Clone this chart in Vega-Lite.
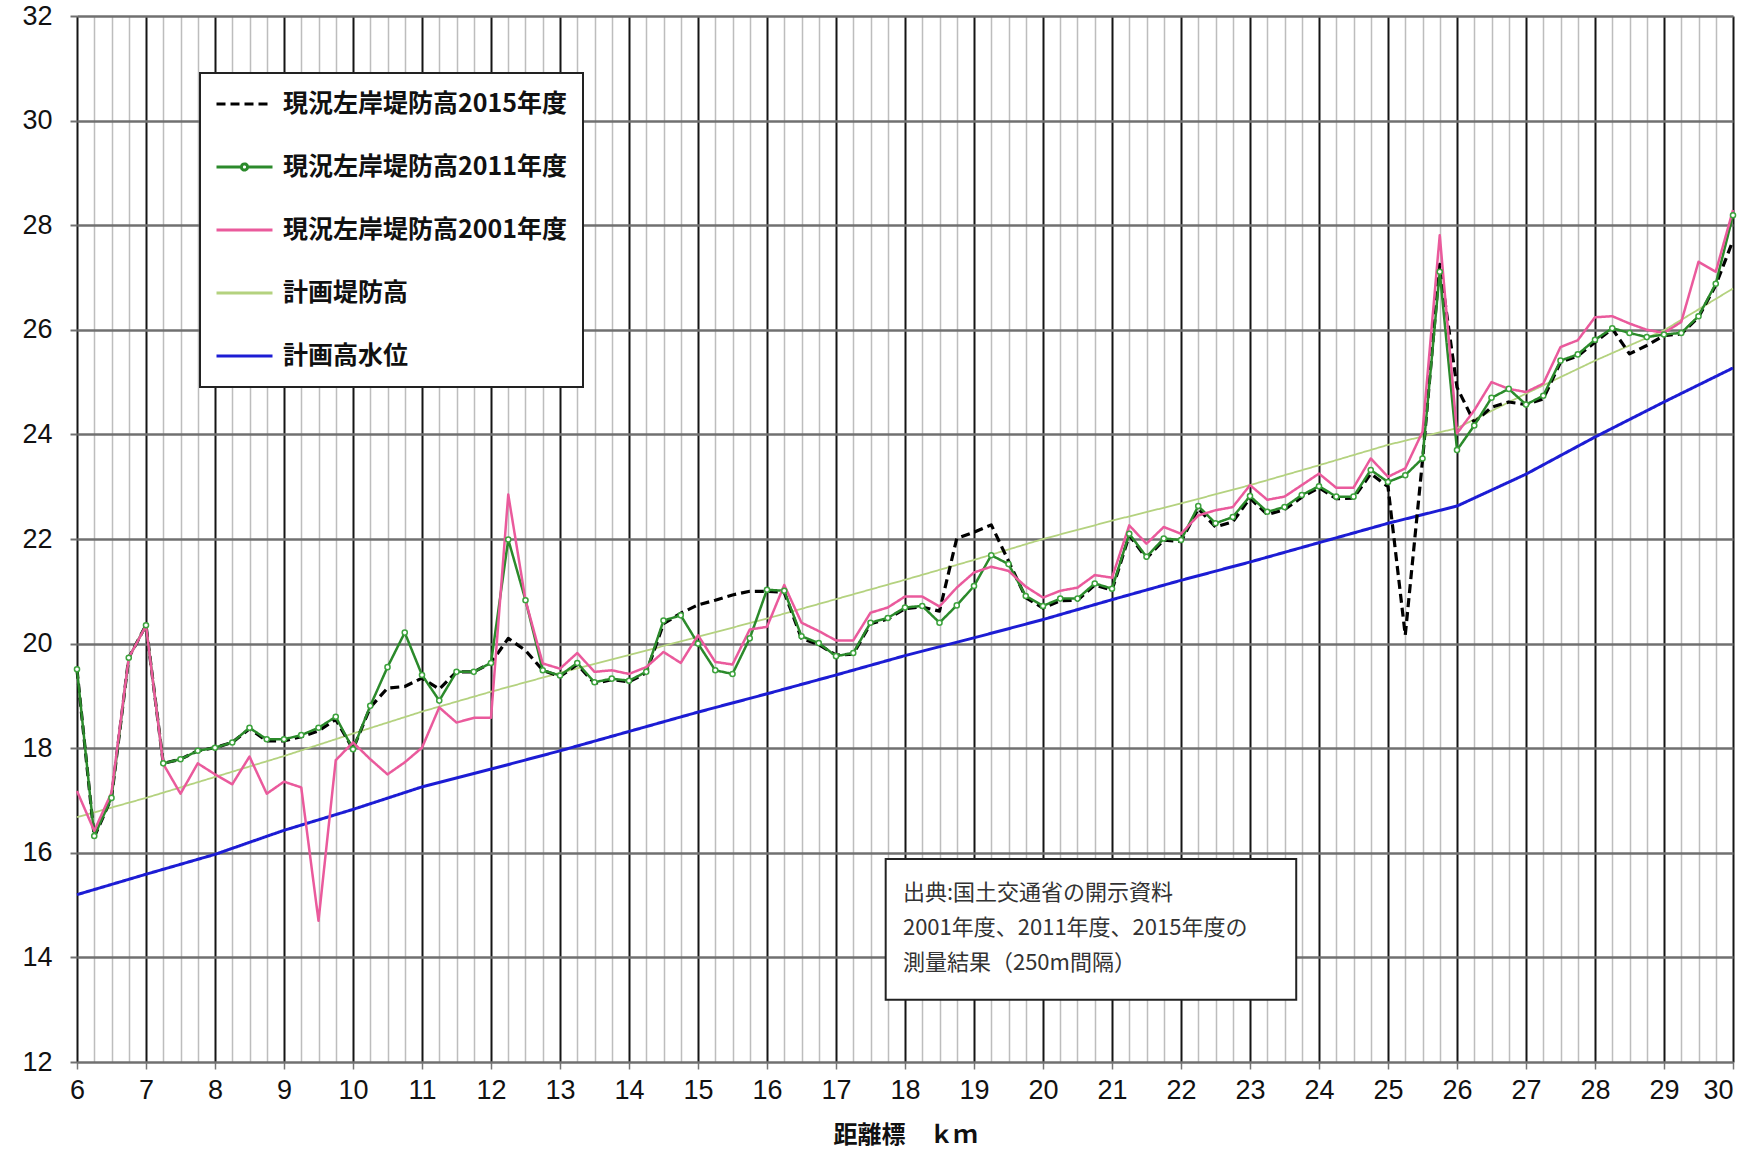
{
  "$schema": "https://vega.github.io/schema/vega-lite/v6.json",
  "width": 1656,
  "height": 1046,
  "autosize": {"type": "none"},
  "padding": {"left": 77, "top": 16, "right": 11, "bottom": 92},
  "background": "white",
  "config": {
    "view": {"stroke": null},
    "font": "Noto Sans CJK JP",
    "legend": {"strokeWidth": 2}
  },
  "resolve": {"axis": {"x": "independent"}},
  "datasets": {
    "plan": [
      {"km": 6, "plan": 16.68, "hwl": 15.20},
      {"km": 7, "plan": 17.05, "hwl": 15.59},
      {"km": 8, "plan": 17.45, "hwl": 15.97},
      {"km": 9, "plan": 17.85, "hwl": 16.43},
      {"km": 10, "plan": 18.28, "hwl": 16.83},
      {"km": 11, "plan": 18.70, "hwl": 17.26},
      {"km": 12, "plan": 19.08, "hwl": 17.60},
      {"km": 13, "plan": 19.44, "hwl": 17.95},
      {"km": 14, "plan": 19.78, "hwl": 18.32},
      {"km": 15, "plan": 20.13, "hwl": 18.69},
      {"km": 16, "plan": 20.48, "hwl": 19.04},
      {"km": 17, "plan": 20.85, "hwl": 19.40},
      {"km": 18, "plan": 21.22, "hwl": 19.77},
      {"km": 19, "plan": 21.60, "hwl": 20.11},
      {"km": 20, "plan": 22.00, "hwl": 20.46},
      {"km": 21, "plan": 22.35, "hwl": 20.84},
      {"km": 22, "plan": 22.68, "hwl": 21.21},
      {"km": 23, "plan": 23.03, "hwl": 21.56},
      {"km": 24, "plan": 23.41, "hwl": 21.93},
      {"km": 25, "plan": 23.80, "hwl": 22.30},
      {"km": 26, "plan": 24.12, "hwl": 22.63},
      {"km": 27, "plan": 24.78, "hwl": 23.24},
      {"km": 28, "plan": 25.41, "hwl": 23.95},
      {"km": 29, "plan": 25.99, "hwl": 24.62},
      {"km": 30, "plan": 26.79, "hwl": 25.27}
    ],
    "survey": [
      {"km": 6, "s2015": 19.50, "s2011": 19.51, "s2001": 17.18},
      {"km": 6.25, "s2015": 16.30, "s2011": 16.32, "s2001": 16.42},
      {"km": 6.5, "s2015": 17.05, "s2011": 17.05, "s2001": 17.15},
      {"km": 6.75, "s2015": 19.73, "s2011": 19.73, "s2001": 19.73},
      {"km": 7, "s2015": 20.35, "s2011": 20.35, "s2001": 20.34},
      {"km": 7.25, "s2015": 17.71, "s2011": 17.71, "s2001": 17.70},
      {"km": 7.5, "s2015": 17.79, "s2011": 17.79, "s2001": 17.13},
      {"km": 7.75, "s2015": 17.95, "s2011": 17.95, "s2001": 17.71},
      {"km": 8, "s2015": 18.01, "s2011": 18.01, "s2001": 17.50},
      {"km": 8.25, "s2015": 18.11, "s2011": 18.11, "s2001": 17.31},
      {"km": 8.5, "s2015": 18.37, "s2011": 18.39, "s2001": 17.84},
      {"km": 8.75, "s2015": 18.14, "s2011": 18.17, "s2001": 17.13},
      {"km": 9, "s2015": 18.14, "s2011": 18.17, "s2001": 17.36},
      {"km": 9.25, "s2015": 18.22, "s2011": 18.25, "s2001": 17.25},
      {"km": 9.5, "s2015": 18.33, "s2011": 18.39, "s2001": 14.70},
      {"km": 9.75, "s2015": 18.55, "s2011": 18.60, "s2001": 17.77},
      {"km": 10, "s2015": 17.98, "s2011": 17.98, "s2001": 18.11},
      {"km": 10.25, "s2015": 18.78, "s2011": 18.81, "s2001": 17.79},
      {"km": 10.5, "s2015": 19.15, "s2011": 19.55, "s2001": 17.50},
      {"km": 10.75, "s2015": 19.18, "s2011": 20.21, "s2001": 17.73},
      {"km": 11, "s2015": 19.34, "s2011": 19.40, "s2001": 18.01},
      {"km": 11.25, "s2015": 19.13, "s2011": 18.91, "s2001": 18.78},
      {"km": 11.5, "s2015": 19.46, "s2011": 19.46, "s2001": 18.49},
      {"km": 11.75, "s2015": 19.46, "s2011": 19.46, "s2001": 18.58},
      {"km": 12, "s2015": 19.63, "s2011": 19.63, "s2001": 18.58},
      {"km": 12.25, "s2015": 20.10, "s2011": 21.99, "s2001": 22.85},
      {"km": 12.5, "s2015": 19.87, "s2011": 20.83, "s2001": 20.83},
      {"km": 12.75, "s2015": 19.49, "s2011": 19.49, "s2001": 19.62},
      {"km": 13, "s2015": 19.37, "s2011": 19.39, "s2001": 19.52},
      {"km": 13.25, "s2015": 19.60, "s2011": 19.63, "s2001": 19.82},
      {"km": 13.5, "s2015": 19.24, "s2011": 19.26, "s2001": 19.46},
      {"km": 13.75, "s2015": 19.31, "s2011": 19.33, "s2001": 19.49},
      {"km": 14, "s2015": 19.27, "s2011": 19.29, "s2001": 19.42},
      {"km": 14.25, "s2015": 19.44, "s2011": 19.46, "s2001": 19.55},
      {"km": 14.5, "s2015": 20.38, "s2011": 20.44, "s2001": 19.84},
      {"km": 14.75, "s2015": 20.58, "s2011": 20.54, "s2001": 19.63},
      {"km": 15, "s2015": 20.74, "s2011": 20.00, "s2001": 20.16},
      {"km": 15.25, "s2015": 20.83, "s2011": 19.49, "s2001": 19.65},
      {"km": 15.5, "s2015": 20.93, "s2011": 19.42, "s2001": 19.60},
      {"km": 15.75, "s2015": 21.00, "s2011": 20.10, "s2001": 20.27},
      {"km": 16, "s2015": 21.00, "s2011": 21.03, "s2001": 20.32},
      {"km": 16.25, "s2015": 20.98, "s2011": 21.01, "s2001": 21.12},
      {"km": 16.5, "s2015": 20.10, "s2011": 20.14, "s2001": 20.40},
      {"km": 16.75, "s2015": 19.98, "s2011": 20.01, "s2001": 20.24},
      {"km": 17, "s2015": 19.78, "s2011": 19.76, "s2001": 20.06},
      {"km": 17.25, "s2015": 19.80, "s2011": 19.82, "s2001": 20.06},
      {"km": 17.5, "s2015": 20.38, "s2011": 20.40, "s2001": 20.59},
      {"km": 17.75, "s2015": 20.47, "s2011": 20.49, "s2001": 20.69},
      {"km": 18, "s2015": 20.67, "s2011": 20.69, "s2001": 20.90},
      {"km": 18.25, "s2015": 20.70, "s2011": 20.72, "s2001": 20.90},
      {"km": 18.5, "s2015": 20.62, "s2011": 20.40, "s2001": 20.71},
      {"km": 18.75, "s2015": 22.01, "s2011": 20.73, "s2001": 21.07},
      {"km": 19, "s2015": 22.13, "s2011": 21.10, "s2001": 21.36},
      {"km": 19.25, "s2015": 22.27, "s2011": 21.69, "s2001": 21.47},
      {"km": 19.5, "s2015": 21.58, "s2011": 21.52, "s2001": 21.39},
      {"km": 19.75, "s2015": 20.88, "s2011": 20.91, "s2001": 21.09},
      {"km": 20, "s2015": 20.68, "s2011": 20.72, "s2001": 20.88},
      {"km": 20.25, "s2015": 20.82, "s2011": 20.86, "s2001": 21.01},
      {"km": 20.5, "s2015": 20.83, "s2011": 20.86, "s2001": 21.07},
      {"km": 20.75, "s2015": 21.12, "s2011": 21.15, "s2001": 21.31},
      {"km": 21, "s2015": 21.02, "s2011": 21.05, "s2001": 21.26},
      {"km": 21.25, "s2015": 22.07, "s2011": 22.10, "s2001": 22.26},
      {"km": 21.5, "s2015": 21.63, "s2011": 21.66, "s2001": 21.91},
      {"km": 21.75, "s2015": 21.98, "s2011": 22.01, "s2001": 22.23},
      {"km": 22, "s2015": 21.95, "s2011": 21.98, "s2001": 22.10},
      {"km": 22.25, "s2015": 22.58, "s2011": 22.63, "s2001": 22.45},
      {"km": 22.5, "s2015": 22.23, "s2011": 22.30, "s2001": 22.55},
      {"km": 22.75, "s2015": 22.33, "s2011": 22.42, "s2001": 22.61},
      {"km": 23, "s2015": 22.78, "s2011": 22.82, "s2001": 23.03},
      {"km": 23.25, "s2015": 22.47, "s2011": 22.52, "s2001": 22.75},
      {"km": 23.5, "s2015": 22.56, "s2011": 22.61, "s2001": 22.81},
      {"km": 23.75, "s2015": 22.80, "s2011": 22.84, "s2001": 23.03},
      {"km": 24, "s2015": 22.98, "s2011": 23.01, "s2001": 23.25},
      {"km": 24.25, "s2015": 22.77, "s2011": 22.81, "s2001": 22.98},
      {"km": 24.5, "s2015": 22.78, "s2011": 22.81, "s2001": 22.98},
      {"km": 24.75, "s2015": 23.25, "s2011": 23.32, "s2001": 23.54},
      {"km": 25, "s2015": 23.00, "s2011": 23.09, "s2001": 23.19},
      {"km": 25.25, "s2015": 20.16, "s2011": 23.22, "s2001": 23.35},
      {"km": 25.5, "s2015": 23.50, "s2011": 23.54, "s2001": 24.05},
      {"km": 25.75, "s2015": 27.25, "s2011": 27.11, "s2001": 27.81},
      {"km": 26, "s2015": 24.90, "s2011": 23.70, "s2001": 24.02},
      {"km": 26.25, "s2015": 24.23, "s2011": 24.17, "s2001": 24.46},
      {"km": 26.5, "s2015": 24.52, "s2011": 24.70, "s2001": 25.00},
      {"km": 26.75, "s2015": 24.62, "s2011": 24.87, "s2001": 24.87},
      {"km": 27, "s2015": 24.57, "s2011": 24.57, "s2001": 24.81},
      {"km": 27.25, "s2015": 24.68, "s2011": 24.74, "s2001": 24.97},
      {"km": 27.5, "s2015": 25.38, "s2011": 25.41, "s2001": 25.67},
      {"km": 27.75, "s2015": 25.50, "s2011": 25.53, "s2001": 25.80},
      {"km": 28, "s2015": 25.76, "s2011": 25.81, "s2001": 26.24},
      {"km": 28.25, "s2015": 26.02, "s2011": 26.03, "s2001": 26.26},
      {"km": 28.5, "s2015": 25.54, "s2011": 25.94, "s2001": 26.12},
      {"km": 28.75, "s2015": 25.70, "s2011": 25.86, "s2001": 26.00},
      {"km": 29, "s2015": 25.89, "s2011": 25.91, "s2001": 25.94},
      {"km": 29.25, "s2015": 25.92, "s2011": 25.94, "s2001": 26.15},
      {"km": 29.5, "s2015": 26.24, "s2011": 26.26, "s2001": 27.30},
      {"km": 29.75, "s2015": 26.85, "s2011": 26.88, "s2001": 27.11},
      {"km": 30, "s2015": 27.71, "s2011": 28.19, "s2001": 28.29}
    ]
  },
  "layer": [
    {
      "data": {"name": "plan"},
      "mark": {"type": "line", "strokeWidth": 1.8, "strokeJoin": "round"},
      "encoding": {
        "x": {
          "field": "km", "type": "quantitative", "title": null,
          "scale": {"domain": [6, 30], "nice": false, "zero": false},
          "axis": {
            "orient": "bottom",
            "values": [6.25,6.5,6.75,7.25,7.5,7.75,8.25,8.5,8.75,9.25,9.5,9.75,10.25,10.5,10.75,11.25,11.5,11.75,12.25,12.5,12.75,13.25,13.5,13.75,14.25,14.5,14.75,15.25,15.5,15.75,16.25,16.5,16.75,17.25,17.5,17.75,18.25,18.5,18.75,19.25,19.5,19.75,20.25,20.5,20.75,21.25,21.5,21.75,22.25,22.5,22.75,23.25,23.5,23.75,24.25,24.5,24.75,25.25,25.5,25.75,26.25,26.5,26.75,27.25,27.5,27.75,28.25,28.5,28.75,29.25,29.5,29.75],
            "grid": true,
            "gridColor": "#bdbdbd",
            "gridWidth": 1.5,
            "ticks": false,
            "labels": false,
            "domain": false
          }
        },
        "y": {
          "field": "plan", "type": "quantitative", "title": null,
          "scale": {"domain": [12, 32], "nice": false, "zero": false},
          "axis": {
            "values": [12,14,16,18,20,22,24,26,28,30,32],
            "grid": true,
            "gridColor": "#707070",
            "gridWidth": 2.5,
            "tickColor": "#707070",
            "tickSize": 7,
            "tickWidth": 2,
            "domain": false,
            "format": "d",
            "labelFont": "Liberation Sans",
            "labelFontSize": 27,
            "labelColor": "#111111",
            "labelPadding": 18
          }
        },
        "color": {
          "datum": "計画堤防高",
          "scale": {
            "domain": ["現況左岸堤防高2015年度", "現況左岸堤防高2011年度", "現況左岸堤防高2001年度", "計画堤防高", "計画高水位"],
            "range": ["#000000", "#2b8a2b", "#ea5a9c", "#b4d27f", "#1c1cd4"]
          },
          "legend": {
            "orient": "none",
            "legendX": 123,
            "legendY": 57,
            "title": null,
            "symbolType": "stroke",
            "symbolSize": 3136,
            "symbolStrokeWidth": 3,
            "labelFont": "Noto Sans CJK JP",
            "labelFontSize": 25,
            "labelFontWeight": "bold",
            "labelColor": "#111111",
            "labelOffset": 9,
            "labelLimit": 500,
            "padding": 15,
            "rowPadding": 31,
            "clipHeight": 32,
            "fillColor": "white",
            "strokeColor": "#222222"
          }
        },
        "strokeDash": {
          "datum": "計画堤防高",
          "scale": {
            "domain": ["現況左岸堤防高2015年度", "現況左岸堤防高2011年度", "現況左岸堤防高2001年度", "計画堤防高", "計画高水位"],
            "range": [[9, 5], [1, 0], [1, 0], [1, 0], [1, 0]]
          }
        }
      }
    },
    {
      "data": {"name": "plan"},
      "mark": {"type": "line", "strokeWidth": 3, "strokeJoin": "round"},
      "encoding": {
        "x": {
          "field": "km", "type": "quantitative", "title": "距離標　ｋｍ",
          "axis": {
            "orient": "bottom",
            "values": [6,7,8,9,10,11,12,13,14,15,16,17,18,19,20,21,22,23,24,25,26,27,28,29,30],
            "format": "d",
            "grid": true,
            "gridColor": "#151515",
            "gridWidth": 2,
            "tickColor": "#777777",
            "tickSize": 7,
            "tickWidth": 1.5,
            "domain": false,
            "labelOverlap": false,
            "labelBound": false,
            "labelFlush": false,
            "labelAlign": {"condition": {"test": "datum.value === 30", "value": "right"}, "value": "center"},
            "labelFont": "Liberation Sans",
            "labelFontSize": 27,
            "labelColor": "#111111",
            "labelPadding": 8,
            "titleFont": "Noto Sans CJK JP",
            "titleFontSize": 24,
            "titleFontWeight": "bold",
            "titleColor": "#111111",
            "titlePadding": 20
          }
        },
        "y": {"field": "hwl", "type": "quantitative", "title": null},
        "color": {"datum": "計画高水位"},
        "strokeDash": {"datum": "計画高水位"}
      }
    },
    {
      "data": {"name": "survey"},
      "mark": {"type": "line", "strokeWidth": 3.2, "strokeJoin": "round"},
      "encoding": {
        "x": {"field": "km", "type": "quantitative", "axis": null},
        "y": {"field": "s2015", "type": "quantitative", "title": null},
        "color": {"datum": "現況左岸堤防高2015年度"},
        "strokeDash": {"datum": "現況左岸堤防高2015年度"}
      }
    },
    {
      "data": {"name": "survey"},
      "mark": {"type": "line", "strokeWidth": 2.5, "strokeJoin": "round"},
      "encoding": {
        "x": {"field": "km", "type": "quantitative", "axis": null},
        "y": {"field": "s2011", "type": "quantitative", "title": null},
        "color": {"datum": "現況左岸堤防高2011年度"},
        "strokeDash": {"datum": "現況左岸堤防高2011年度"}
      }
    },
    {
      "data": {"name": "survey"},
      "mark": {"type": "line", "strokeWidth": 2.5, "strokeJoin": "round"},
      "encoding": {
        "x": {"field": "km", "type": "quantitative", "axis": null},
        "y": {"field": "s2001", "type": "quantitative", "title": null},
        "color": {"datum": "現況左岸堤防高2001年度"},
        "strokeDash": {"datum": "現況左岸堤防高2001年度"}
      }
    },
    {
      "data": {"name": "survey"},
      "mark": {"type": "point", "shape": "circle", "filled": true, "fill": "white", "stroke": "#3da33d", "strokeWidth": 1.5, "size": 26, "opacity": 1},
      "encoding": {
        "x": {"field": "km", "type": "quantitative", "axis": null},
        "y": {"field": "s2011", "type": "quantitative", "title": null}
      }
    },
    {
      "data": {"name": "survey"},
      "transform": [{"filter": "false"}],
      "mark": {"type": "point", "filled": false, "opacity": 1, "strokeWidth": 2.5},
      "encoding": {
        "x": {"field": "km", "type": "quantitative", "axis": null},
        "y": {"field": "s2011", "type": "quantitative", "title": null},
        "color": {"datum": "現況左岸堤防高2011年度"},
        "strokeDash": {"datum": "現況左岸堤防高2011年度"},
        "shape": {
          "datum": "現況左岸堤防高2011年度",
          "scale": {
            "domain": ["現況左岸堤防高2015年度", "現況左岸堤防高2011年度", "現況左岸堤防高2001年度", "計画堤防高", "計画高水位"],
            "range": ["M-1,0L1,0", "M-1,0L-0.11,0M0.11,0L1,0M0.11,0A0.11,0.11 0 1,1 -0.11,0A0.11,0.11 0 1,1 0.11,0", "M-1,0L1,0", "M-1,0L1,0", "M-1,0L1,0"]
          }
        }
      }
    },
    {
      "data": {"values": [{}]},
      "mark": {"type": "rect", "fill": "white", "stroke": "#222222", "strokeWidth": 2},
      "encoding": {
        "x": {"datum": 17.72, "type": "quantitative", "axis": null},
        "x2": {"datum": 23.67},
        "y": {"datum": 15.88, "type": "quantitative", "title": null},
        "y2": {"datum": 13.19}
      }
    },
    {
      "data": {"values": [{}]},
      "mark": {
        "type": "text", "align": "left", "baseline": "middle",
        "font": "Noto Sans CJK JP", "fontSize": 22, "lineHeight": 35, "color": "#333333",
        "text": ["出典:国土交通省の開示資料", "2001年度、2011年度、2015年度の", "測量結果（250m間隔）"]
      },
      "encoding": {
        "x": {"datum": 17.97, "type": "quantitative", "axis": null},
        "y": {"datum": 15.23, "type": "quantitative", "title": null}
      }
    }
  ]
}
